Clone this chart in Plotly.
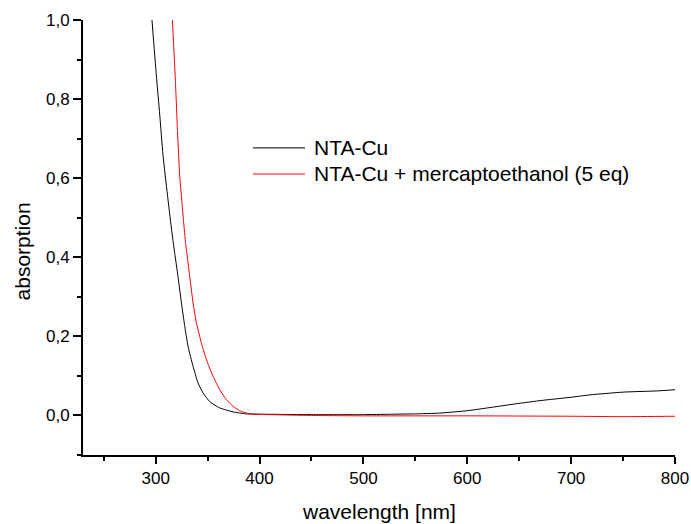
import plotly.graph_objects as go

# NTA-Cu (black)
wl_cu = [296.4, 300.6, 303.9, 307.0, 311.3, 315.1, 318.3, 321.5, 324.8, 328.0,
         331.2, 336.0, 340.8, 345.6, 352.0, 361.7, 374.5, 387.3, 410, 450, 500,
         525, 550, 573.6, 600, 622, 651, 675, 700, 718, 750, 782, 800]
abs_cu = [1.0, 0.861, 0.760, 0.659, 0.558, 0.474, 0.410, 0.351, 0.284, 0.225,
          0.174, 0.124, 0.082, 0.057, 0.035, 0.019, 0.009, 0.004, 0.003, 0.002, 0.002,
          0.003, 0.004, 0.006, 0.012, 0.020, 0.031, 0.039, 0.046, 0.052, 0.059, 0.062, 0.065]

# NTA-Cu + mercaptoethanol (red)
wl_me = [316.1, 319.0, 321.0, 323.1, 326.3, 328.6, 330.5, 332.8, 336.0, 339.2,
         344.0, 348.8, 355.2, 361.7, 368.1, 374.5, 382.5, 390.6, 400.2, 409.8,
         450, 500, 600, 700, 750, 800]
abs_me = [1.0, 0.844, 0.718, 0.608, 0.507, 0.440, 0.400, 0.351, 0.284, 0.234,
          0.183, 0.141, 0.099, 0.065, 0.040, 0.023, 0.010, 0.004, 0.0025, 0.002,
          0.0, -0.001, -0.001, -0.002, -0.003, -0.002]

names = ["NTA-Cu", "NTA-Cu + mercaptoethanol (5 eq)"]
colors = ["#000000", "#ff0000"]

FONT = "Liberation Sans, Arial, sans-serif"

fig = go.Figure()
fig.add_trace(go.Scatter(x=wl_cu, y=abs_cu, mode="lines", name=names[0],
                         line=dict(color=colors[0], width=1, shape="spline", smoothing=0.5),
                         showlegend=False))
fig.add_trace(go.Scatter(x=wl_me, y=abs_me, mode="lines", name=names[1],
                         line=dict(color=colors[1], width=1, shape="spline", smoothing=0.5),
                         showlegend=False))

# manual legend (paper coordinates)
leg_y = [0.706, 0.646]
for i in range(2):
    fig.add_shape(type="line", xref="paper", yref="paper",
                  x0=0.287, x1=0.375, y0=leg_y[i], y1=leg_y[i],
                  line=dict(color=colors[i], width=1))
    fig.add_annotation(xref="paper", yref="paper", x=0.387, y=leg_y[i],
                       text=names[i], showarrow=False, xanchor="left", yanchor="middle",
                       font=dict(family=FONT, size=21, color="black"))

# axis titles
fig.add_annotation(xref="paper", yref="paper", x=0.5, y=-0.130,
                   text="wavelength [nm]", showarrow=False, xanchor="center", yanchor="middle",
                   font=dict(family=FONT, size=21, color="black"))
fig.add_annotation(xref="paper", yref="paper", x=-0.103, y=0.468,
                   text="absorption", showarrow=False, textangle=-90,
                   xanchor="center", yanchor="middle",
                   font=dict(family=FONT, size=21, color="black"))

fig.update_layout(
    width=691, height=524,
    margin=dict(l=83, r=16, t=20, b=69),
    paper_bgcolor="white", plot_bgcolor="white",
    separators=", ",
    font=dict(family=FONT, size=17, color="black"),
    xaxis=dict(range=[230, 800], tick0=300, dtick=100, showgrid=False, zeroline=False,
               automargin=False,
               showline=True, linecolor="black", linewidth=2,
               ticks="outside", ticklen=7, tickwidth=2, tickcolor="black",
               minor=dict(dtick=50, tick0=250, ticks="outside", ticklen=4, tickwidth=2,
                          tickcolor="black", showgrid=False),
               tickfont=dict(size=17)),
    yaxis=dict(range=[-0.1, 1.0], tick0=0, dtick=0.2, tickformat=".1f",
               showgrid=False, zeroline=False, automargin=False,
               showline=True, linecolor="black", linewidth=2,
               ticks="outside", ticklen=8, tickwidth=2, tickcolor="black",
               minor=dict(dtick=0.1, tick0=0, ticks="outside", ticklen=4, tickwidth=2,
                          tickcolor="black", showgrid=False),
               tickfont=dict(size=17)),
)

fig.write_html("out.html")
